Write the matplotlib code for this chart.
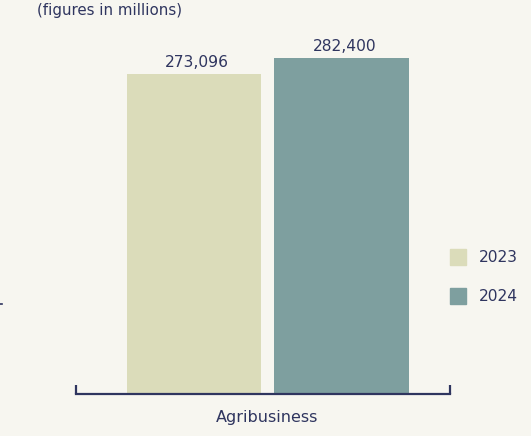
import matplotlib
matplotlib.use('Agg')
import matplotlib.pyplot as plt
from matplotlib.patches import Rectangle
from matplotlib.lines import Line2D

# data
category = 'Agribusiness'
years = ['2023', '2024']
values = [273096, 282400]
colors = ['#dbdcba', '#7e9f9f']

bg = '#f7f6f0'
navy = '#2f355f'

plt.rcParams['font.family'] = ['DejaVu Sans']

W, H = 531, 436
fig = plt.figure(figsize=(W / 100, H / 100), dpi=100)
fig.patch.set_facecolor(bg)

# axes placed in pixel coords
x0, x1, ytop, ybot = 76, 450, 40, 394
ax = fig.add_axes([x0 / W, 1 - ybot / H, (x1 - x0) / W, (ybot - ytop) / H])
ax.set_facecolor(bg)

xs = [0, 1]
ax.bar(xs, values, width=0.915, color=colors, zorder=2)
ax.set_xlim(-0.8, 1.736)
ax.set_ylim(87000, 292870)

for x, v in zip(xs, values):
    ax.text(x + 0.02, v + 2300, '{:,}'.format(v), ha='center', va='bottom',
            fontsize=11.2, color=navy)

for s in ['top', 'right', 'left']:
    ax.spines[s].set_visible(False)
ax.spines['bottom'].set_color(navy)
ax.spines['bottom'].set_linewidth(1.6)
ax.set_yticks([])
ax.set_xticks([])
# bracket ends
for xe in ax.get_xlim():
    ax.plot([xe, xe], [87000, 87000 + 5200], color=navy, lw=1.6,
            clip_on=False, solid_capstyle='butt', zorder=3)

ax.text((267 - x0) / (x1 - x0), -0.065, category, transform=ax.transAxes,
        ha='center', va='center', fontsize=11.5, color=navy)

fig.text(37 / W, 1 - 11 / H, '(figures in millions)', ha='left',
         va='center', fontsize=10.8, color=navy)

# legend
for i, (yr, c) in enumerate(zip(years, colors)):
    yc = 257 + i * 39
    fig.patches.append(Rectangle((450 / W, 1 - (yc + 8) / H), 16 / W, 16 / H,
                                 transform=fig.transFigure, color=c))
    fig.text(479 / W, 1 - yc / H, yr, ha='left', va='center',
             fontsize=11.2, color=navy)

# stray tick at the left edge
fig.lines.append(Line2D([0, 2 / W], [1 - 304 / H, 1 - 304 / H],
                        transform=fig.transFigure, color=navy, lw=1.2))

fig.savefig('out.png', dpi=100, facecolor=bg)
